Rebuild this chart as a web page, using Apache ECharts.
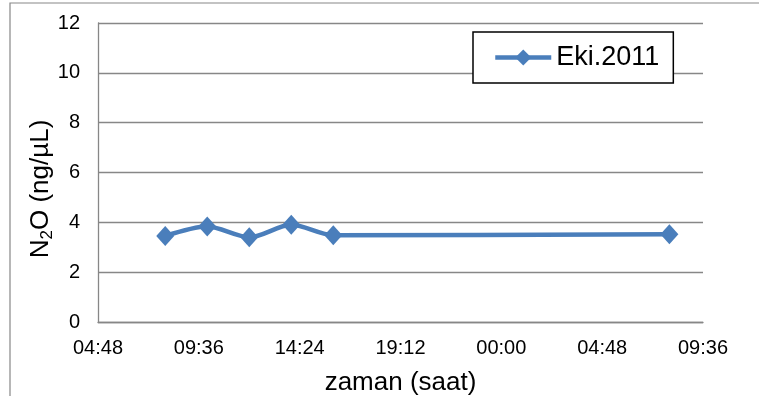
<!DOCTYPE html>
<html>
<head>
<meta charset="utf-8">
<script src="https://cdn.jsdelivr.net/npm/echarts@6/dist/echarts.min.js"></script>
<style>html,body{margin:0;padding:0;background:#fff;}#c{width:759px;height:396px;}</style>
</head>
<body>
<div id="c"></div>
<script>
// Data (hours since midnight of first day)
var times = [8, 10, 12, 14, 16, 32];
var values = [3.45, 3.83, 3.40, 3.90, 3.48, 3.52];
var seriesName = 'Eki.2011';
var xTickLabels = ['04:48', '09:36', '14:24', '19:12', '00:00', '04:48', '09:36'];
var yTicks = [0, 2, 4, 6, 8, 10, 12];

var chart = echarts.init(document.getElementById('c'), null, {renderer: 'canvas'});
var font = '"Liberation Sans", Arial, sans-serif';
var gridColor = '#878787';
var blue = '#4A7EBB';

var pts = times.map(function (t, i) { return [t, values[i]]; });

chart.setOption({
  backgroundColor: '#fff',
  animation: false,
  graphic: [
    {type: 'rect', shape: {x: 10, y: 3, width: 760, height: 410}, style: {fill: 'none', stroke: gridColor, lineWidth: 1.2}, silent: true},
    {type: 'text', x: 41, y: 189, rotation: Math.PI / 2,
      style: {
        text: '{a|N}{b|2}{a|O (ng/µL)}',
        align: 'center', verticalAlign: 'middle',
        rich: {
          a: {fontFamily: font, fontSize: 26, fill: '#000', lineHeight: 30},
          b: {fontFamily: font, fontSize: 17, fill: '#000', verticalAlign: 'bottom', padding: [12, 0, 0, 0], lineHeight: 18}
        }
      }}
  ],
  grid: {left: 98, right: 56, top: 23, bottom: 74, containLabel: false, outerBoundsMode: 'none'},
  legend: {
    data: [seriesName],
    left: 473, top: 32,
    padding: [12, 14, 12, 20],
    borderColor: '#000', borderWidth: 1.5, backgroundColor: '#fff',
    itemWidth: 56, itemHeight: 20, itemGap: 5,
    lineStyle: {width: 4.5},
    textStyle: {fontFamily: font, fontSize: 27, color: '#000'}
  },
  xAxis: {
    type: 'value', min: 4.8, max: 33.6, interval: 4.8,
    name: 'zaman (saat)', nameLocation: 'middle', nameGap: 48,
    nameTextStyle: {fontFamily: font, fontSize: 26, color: '#000'},
    axisLine: {show: true, lineStyle: {color: gridColor, width: 1.3}},
    axisTick: {show: false},
    splitLine: {show: false},
    axisLabel: {
      fontFamily: font, fontSize: 20, color: '#000', margin: 16,
      formatter: function (v) { return xTickLabels[Math.round((v - 4.8) / 4.8)] || ''; }
    }
  },
  yAxis: {
    type: 'value', min: yTicks[0], max: yTicks[yTicks.length - 1], interval: 2,
    axisLine: {show: true, lineStyle: {color: gridColor, width: 1.3}},
    axisTick: {show: false},
    splitLine: {show: true, lineStyle: {color: gridColor, width: 1.3}},
    axisLabel: {fontFamily: font, fontSize: 20, color: '#000', margin: 18}
  },
  series: [{
    name: seriesName, type: 'line', data: pts, smooth: 0.3,
    symbol: 'diamond', symbolSize: [18, 20],
    lineStyle: {color: blue, width: 4.5},
    itemStyle: {color: blue}
  }]
});
</script>
</body>
</html>
